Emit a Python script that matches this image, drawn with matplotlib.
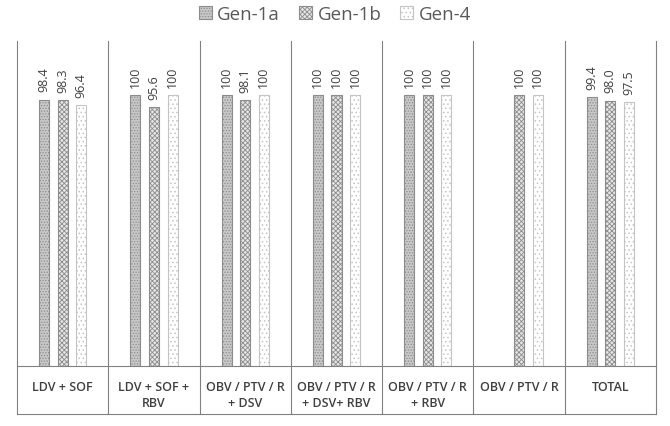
import matplotlib.pyplot as plt
import numpy as np

plt.rcParams['font.family'] = ['Open Sans', 'DejaVu Sans']
plt.rcParams['hatch.linewidth'] = 0.6

categories = ['LDV + SOF', 'LDV + SOF +\nRBV', 'OBV / PTV / R\n+ DSV',
              'OBV / PTV / R\n+ DSV+ RBV', 'OBV / PTV / R\n+ RBV',
              'OBV / PTV / R', 'TOTAL']
series = ['Gen-1a', 'Gen-1b', 'Gen-4']
gen1a = [98.4, 100, 100, 100, 100, None, 99.4]
gen1b = [98.3, 95.6, 98.1, 100, 100, 100, 98.0]
gen4 = [96.4, 100, 100, 100, 100, 100, 97.5]

styles = [
    dict(facecolor='#c8c8c8', hatch='......', edgecolor='#8c8c8c'),
    dict(facecolor='#e6e6e6', hatch='xxxxxxx', edgecolor='#8c8c8c'),
    dict(facecolor='#ffffff', hatch='....', edgecolor='#c4c4c4'),
]

fig = plt.figure(figsize=(6.7, 4.27), dpi=100)
ax = fig.add_axes([17 / 670, 1 - 367 / 427, 639 / 670, 325 / 427])

n = len(categories)
x = np.arange(n)
width = 0.11
step = 0.204
for i, (name, vals) in enumerate(zip(series, [gen1a, gen1b, gen4])):
    for j, v in enumerate(vals):
        if v is None:
            continue
        xp = x[j] + (i - 1) * step
        ax.bar(xp, v, width, linewidth=0.8, **styles[i])
        lab = '100' if v == 100 else '%.1f' % v
        ax.text(xp, v + 3, lab, rotation=90, ha='center', va='bottom',
                fontsize=9, color='#404040')

ax.set_xlim(-0.5, n - 0.5)
ax.set_ylim(0, 120)
ax.set_yticks([])
ax.set_xticks([])
for s in ['top', 'right', 'left']:
    ax.spines[s].set_visible(False)
ax.spines['bottom'].set_color('#808080')
ax.spines['bottom'].set_linewidth(0.8)

# table-like grid below the bars
bot = -48 / 325
for k in range(n + 1):
    ax.plot([k - 0.5, k - 0.5], [bot, 1.0], color='#808080', lw=0.8,
            transform=ax.get_xaxis_transform(), clip_on=False)
ax.plot([-0.5, n - 0.5], [bot, bot], color='#808080', lw=0.8,
        transform=ax.get_xaxis_transform(), clip_on=False)
for j, c in enumerate(categories):
    ax.text(x[j], -14 / 325, c, ha='center', va='top', fontsize=9,
            fontweight='semibold', color='#404040', linespacing=1.35,
            transform=ax.get_xaxis_transform())

handles = [plt.Rectangle((0, 0), 1, 1, linewidth=0.8, **st) for st in styles]
fig.legend(handles, series, loc='upper center', bbox_to_anchor=(0.5, 1.025),
           ncol=3, frameon=False, fontsize=13.5, handlelength=0.7,
           handleheight=0.7, handletextpad=0.3, columnspacing=1.0,
           labelcolor='#595959')

fig.savefig('out.png', dpi=100)
